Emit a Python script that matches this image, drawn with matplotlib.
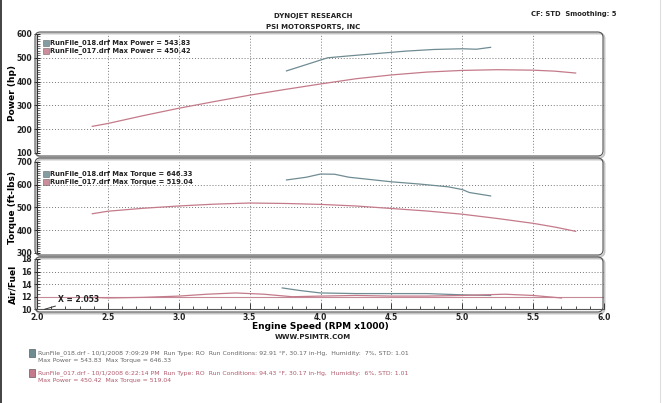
import matplotlib
matplotlib.use("Agg")
import matplotlib.pyplot as plt
from matplotlib.patches import FancyBboxPatch, Rectangle
from matplotlib.ticker import MultipleLocator

# ---------------- data ----------------
rpm_017 = [2.39, 2.5, 2.75, 3.0, 3.25, 3.5, 3.75, 4.0, 4.25, 4.5, 4.75, 5.0, 5.25, 5.5, 5.65, 5.8]
hp_017 = [212, 224, 257, 288, 316, 343, 367, 390, 412, 428, 440, 447, 450, 448, 444, 436]
tq_017 = [472, 483, 496, 506, 514, 519, 517, 513, 506, 495, 484, 470, 451, 430, 414, 395]

rpm_018_hp = [3.76, 3.85, 3.95, 4.05, 4.2, 4.4, 4.6, 4.8, 5.0, 5.1, 5.2]
hp_018 = [445, 462, 481, 500, 508, 518, 528, 535, 538, 536, 544]
rpm_018_tq = [3.76, 3.9, 4.0, 4.1, 4.2, 4.35, 4.5, 4.7, 4.9, 5.0, 5.05, 5.2]
tq_018 = [620, 632, 646, 645, 632, 622, 612, 602, 590, 578, 565, 550]

rpm_afr_017 = [2.39, 2.5, 2.75, 3.0, 3.2, 3.4, 3.6, 3.8, 4.0, 4.25, 4.5, 4.75, 5.0, 5.3, 5.5, 5.7]
afr_017 = [11.9, 11.8, 11.9, 12.1, 12.4, 12.6, 12.4, 12.0, 12.1, 12.2, 12.1, 12.1, 12.2, 12.4, 12.2, 11.8]
rpm_afr_018 = [3.73, 3.85, 4.0, 4.25, 4.5, 4.75, 5.0, 5.2]
afr_018 = [13.4, 13.0, 12.6, 12.5, 12.5, 12.5, 12.3, 12.2]
afr_target = 12.0

x_ticks = [2.0, 2.5, 3.0, 3.5, 4.0, 4.5, 5.0, 5.5, 6.0]
legend_018 = ["RunFile_018.drf Max Power = 543.83", "RunFile_018.drf Max Torque = 646.33"]
legend_017 = ["RunFile_017.drf Max Power = 450.42", "RunFile_017.drf Max Torque = 519.04"]
cursor_x = 2.053

C018 = "#6f8c93"
C017 = "#c47a8a"
GRID = "#777777"
TXT = "#222222"

W, H = 663, 403
fig = plt.figure(figsize=(W / 100, H / 100), dpi=100)
fig.patch.set_facecolor("white")


def fx(px):
    return px / W


def fy(py):
    return 1 - py / H


def make_axes(top, bottom):
    return fig.add_axes([fx(37), fy(bottom), fx(604) - fx(37), (bottom - top) / H])


def draw_box(x0, y0, x1, y1):
    sh = FancyBboxPatch((fx(x0 + 1.5), fy(y1 + 1.5)), fx(x1) - fx(x0), (y1 - y0) / H,
                        boxstyle="round,pad=0,rounding_size=0.008", mutation_aspect=W / H,
                        transform=fig.transFigure, facecolor="none", edgecolor="#c4c4c4",
                        lw=1.4, zorder=0)
    fig.add_artist(sh)
    bx = FancyBboxPatch((fx(x0), fy(y1)), fx(x1) - fx(x0), (y1 - y0) / H,
                        boxstyle="round,pad=0,rounding_size=0.008", mutation_aspect=W / H,
                        transform=fig.transFigure, facecolor="none", edgecolor="#555555",
                        lw=0.8, zorder=1)
    fig.add_artist(bx)


def style(ax, ylo, yhi, ymaj, ymin, show_x):
    ax.set_xlim(2.0, 6.0)
    ax.set_ylim(ylo, yhi)
    ax.patch.set_alpha(0)
    for s in ["top", "right", "bottom"]:
        ax.spines[s].set_visible(False)
    ax.spines["left"].set_color("#333333")
    ax.spines["left"].set_linewidth(0.8)
    ax.yaxis.set_major_locator(MultipleLocator(ymaj))
    ax.yaxis.set_minor_locator(MultipleLocator(ymin))
    ax.set_xticks(x_ticks)
    ax.xaxis.set_minor_locator(MultipleLocator(0.1))
    ax.tick_params(axis="y", which="major", direction="inout", length=5, width=0.7,
                   labelsize=5.5, pad=1, colors=TXT)
    ax.tick_params(axis="y", which="minor", direction="in", length=2.5, width=0.5,
                   colors="#333333")
    for lbl in ax.get_yticklabels():
        lbl.set_fontweight("bold")
    if show_x:
        ax.spines["bottom"].set_visible(True)
        ax.spines["bottom"].set_color("#555555")
        ax.tick_params(axis="x", which="major", direction="in", length=4, width=0.6,
                       labelsize=5.5, pad=2.5, colors=TXT)
        ax.tick_params(axis="x", which="minor", direction="in", length=2.5, width=0.5)
        for lbl in ax.get_xticklabels():
            lbl.set_fontweight("bold")
    else:
        ax.tick_params(axis="x", which="both", length=0, labelbottom=False)
    for xv in x_ticks[1:-1]:
        ax.axvline(xv, color=GRID, lw=0.7, ls=(0, (1, 2)), zorder=1)
    yt = [t for t in ax.get_yticks() if ylo < t < yhi]
    for yv in yt:
        ax.axhline(yv, color=GRID, lw=0.7, ls=(0, (1, 2)), zorder=1)


# ---- Power panel ----
draw_box(35, 32, 603, 156)
ax1 = make_axes(34, 153)
style(ax1, 100, 600, 100, 10, False)
ax1.plot(rpm_018_hp, hp_018, color=C018, lw=0.9, zorder=3)
ax1.plot(rpm_017, hp_017, color=C017, lw=0.9, zorder=3)
ax1.set_ylabel("Power (hp)", fontsize=6.5, fontweight="bold", va="center")

# ---- Torque panel ----
draw_box(35, 158, 603, 255)
ax2 = make_axes(161.7, 253)
style(ax2, 300, 700, 100, 10, False)
ax2.plot(rpm_018_tq, tq_018, color=C018, lw=0.9, zorder=3)
ax2.plot(rpm_017, tq_017, color=C017, lw=0.9, zorder=3)
ax2.set_ylabel("Torque (ft-lbs)", fontsize=6.5, fontweight="bold", va="center")

# ---- Air/Fuel panel ----
draw_box(35, 257, 603, 312)
ax3 = make_axes(259, 309.3)
style(ax3, 10, 18, 2, 0.5, True)
ax3.axhline(afr_target, color="#c58a96", lw=0.8, zorder=2)
ax3.plot(rpm_afr_018, afr_018, color=C018, lw=0.9, zorder=3)
ax3.plot(rpm_afr_017, afr_017, color=C017, lw=0.9, zorder=3)
ax3.set_ylabel("Air/Fuel", fontsize=6.5, fontweight="bold", va="center")
ax3.set_xlabel("Engine Speed (RPM x1000)", fontsize=6.5, fontweight="bold", labelpad=0.5)
ax3.annotate("X = 2.053", xy=(cursor_x, 10), xytext=(2.15, 11.6), fontsize=5.5,
             fontweight="bold", color=TXT, va="center",
             arrowprops=dict(arrowstyle="-", color="#333333", lw=0.7,
                             shrinkA=0, shrinkB=0))

for ax in (ax1, ax2, ax3):
    ax.yaxis.set_label_coords((12.5 - 37) / 567, 0.5)


# ---- in-panel legends ----
def legend(y0, lines):
    for i, (txt, col) in enumerate(zip(lines, [C018, C017])):
        py = y0 + i * 8
        fig.add_artist(Rectangle((fx(43), fy(py + 3)), 6 / W, 6 / H, transform=fig.transFigure,
                                 facecolor=col, edgecolor="#555555", lw=0.4, alpha=0.85))
        fig.text(fx(50.5), fy(py), txt, fontsize=4.9, fontweight="bold", color=TXT,
                 va="center", ha="left")


legend(43, [legend_018[0], legend_017[0]])
legend(174, [legend_018[1], legend_017[1]])

# ---- header ----
fig.text(fx(313), fy(16), "DYNOJET RESEARCH", fontsize=5, fontweight="bold",
         ha="center", va="center", color=TXT)
fig.text(fx(313), fy(27), "PSI MOTORSPORTS, INC", fontsize=5, fontweight="bold",
         ha="center", va="center", color=TXT)
fig.text(fx(531), fy(14), "CF: STD  Smoothing: 5", fontsize=4.9, fontweight="bold",
         ha="left", va="center", color=TXT)
fig.text(fx(313), fy(337), "WWW.PSIMTR.COM", fontsize=5, fontweight="bold",
         ha="center", va="center", color=TXT)

# ---- footer ----
foot = [
    (353, C018, "#666666",
     "RunFile_018.drf - 10/1/2008 7:09:29 PM  Run Type: RO  Run Conditions: 92.91 \u00b0F, 30.17 in-Hg,  Humidity:  7%, STD: 1.01",
     "Max Power = 543.83  Max Torque = 646.33"),
    (373, C017, "#b05a6c",
     "RunFile_017.drf - 10/1/2008 6:22:14 PM  Run Type: RO  Run Conditions: 94.43 \u00b0F, 30.17 in-Hg,  Humidity:  6%, STD: 1.01",
     "Max Power = 450.42  Max Torque = 519.04"),
]
for py, sq, tc, l1, l2 in foot:
    fig.add_artist(Rectangle((fx(29), fy(py + 4)), 6 / W, 8 / H, transform=fig.transFigure,
                             facecolor=sq, edgecolor="#444444", lw=0.4))
    fig.text(fx(38), fy(py), l1, fontsize=4.4, color=tc, ha="left", va="center")
    fig.text(fx(38), fy(py + 7.5), l2, fontsize=4.4, color=tc, ha="left", va="center")

# page edges
fig.add_artist(plt.Line2D([fx(1), fx(1)], [0, 1], transform=fig.transFigure, color="#222222", lw=1.2))
fig.add_artist(plt.Line2D([fx(660), fx(660)], [0, 1], transform=fig.transFigure, color="#dddddd", lw=0.8))

fig.savefig("out.png", dpi=100, facecolor="white")
